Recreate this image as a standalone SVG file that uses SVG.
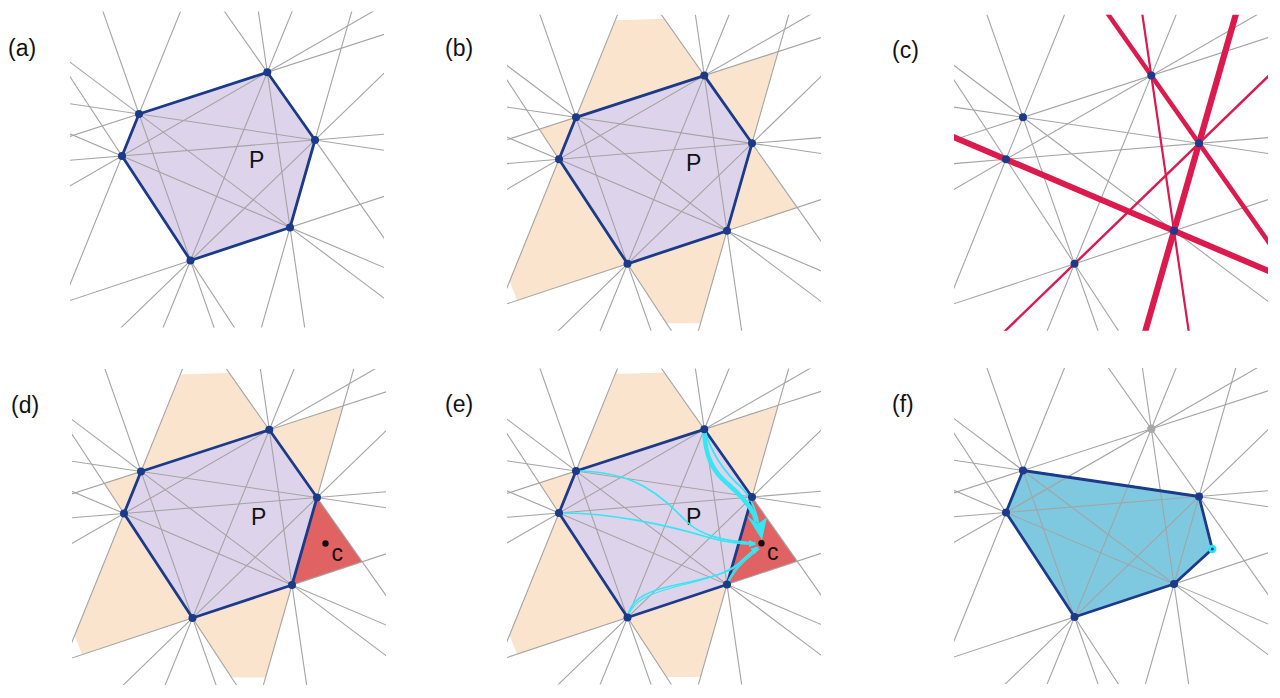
<svg xmlns="http://www.w3.org/2000/svg" xmlns:xlink="http://www.w3.org/1999/xlink" width="1280" height="698" viewBox="0 0 1280 698">
<style>
.ln{stroke:#a4a4a4;stroke-width:1.1;fill:none}
.hull{fill:none;stroke:#1c3a8a;stroke-width:2.8;stroke-linejoin:round}
.pt{fill:#1c3a8a}
.lbl{font-family:"Liberation Sans",Arial,sans-serif;font-size:23px;fill:#111}
.red{stroke:#dc1a4e;fill:none}
.cy{stroke:#36e6f4;fill:none;stroke-linecap:round}
.purple{fill:#ddd4eb}
.orange{fill:#fbe4cd}
.tri{fill:#e06262}
</style>
<defs>
<clipPath id="clip"><rect x="70" y="11.5" width="314" height="316"/></clipPath>
<marker id="ah" viewBox="0 0 10 10" refX="9" refY="5" markerWidth="7" markerHeight="7" orient="auto" markerUnits="userSpaceOnUse"><path d="M0,1 L10,5 L0,9 Z" fill="#36e6f4"/></marker>
<g id="lines">
<line class="ln" x1="-336.6" y1="268.6" x2="614.6" y2="-40.6"/>
<line class="ln" x1="-355.6" y1="40.9" x2="633.6" y2="187.1"/>
<line class="ln" x1="-260.7" y1="-186.4" x2="538.7" y2="414.4"/>
<line class="ln" x1="-26.8" y1="-357.7" x2="304.8" y2="585.7"/>
<line class="ln" x1="326.6" y1="-349.5" x2="-48.6" y2="577.5"/>
<line class="ln" x1="-20.7" y1="-336.5" x2="555.3" y2="481.1"/>
<line class="ln" x1="194.9" y1="-422.4" x2="339.7" y2="567"/>
<line class="ln" x1="456.2" y1="-390.6" x2="78.4" y2="535.2"/>
<line class="ln" x1="700.5" y1="-177.3" x2="-165.9" y2="321.9"/>
<line class="ln" x1="452.4" y1="-340.8" x2="177.6" y2="620.8"/>
<line class="ln" x1="674.2" y1="-207.7" x2="-44.2" y2="487.7"/>
<line class="ln" x1="813.2" y1="98.7" x2="-183.2" y2="181.3"/>
<line class="ln" x1="764.7" y1="70" x2="-184.7" y2="385"/>
<line class="ln" x1="750" y1="423.3" x2="-170" y2="31.7"/>
<line class="ln" x1="464.7" y1="678.9" x2="-83.7" y2="-157.9"/>
</g>
<polygon id="hex" points="139,114 267.3,72.3 315,140 290,227.5 190.5,260.5 122,156"/>
<path id="orange" d="M139,114 L179,17 L227.6,15.5 L267.3,72.3 L341.2,48.3 L315,140 L360.2,204.2 L290,227.5 L263.6,320 L229.5,320 L190.5,260.5 L80,297 L72.5,278 L122,156 L102.3,125.9 Z"/>
<g id="pts">
<circle cx="139" cy="114" r="4"/>
<circle cx="267.3" cy="72.3" r="4"/>
<circle cx="315" cy="140" r="4"/>
<circle cx="290" cy="227.5" r="4"/>
<circle cx="190.5" cy="260.5" r="4"/>
<circle cx="122" cy="156" r="4"/>
</g>
</defs>

<g id="labels" class="lbl">
<text x="8" y="56">(a)</text>
<text x="445" y="56">(b)</text>
<text x="892" y="58">(c)</text>
<text x="11" y="413">(d)</text>
<text x="445" y="412">(e)</text>
<text x="892" y="412">(f)</text>
</g>

<g id="panel-a" transform="translate(0,0)">
<use xlink:href="#hex" class="purple"/>
<g clip-path="url(#clip)"><use xlink:href="#lines"/></g>
<use xlink:href="#hex" class="hull"/>
<use xlink:href="#pts" class="pt"/>
<text class="lbl" x="249" y="167.5">P</text>
</g>

<g id="panel-b" transform="translate(437,3.3)">
<use xlink:href="#orange" class="orange"/>
<use xlink:href="#hex" class="purple"/>
<g clip-path="url(#clip)"><use xlink:href="#lines"/></g>
<use xlink:href="#hex" class="hull"/>
<use xlink:href="#pts" class="pt"/>
<text class="lbl" x="249" y="167.5">P</text>
</g>

<g id="panel-c" transform="translate(884,3.3)">
<g clip-path="url(#clip)">
<use xlink:href="#lines"/>
<line class="red" stroke-width="6" x1="750" y1="423.3" x2="-170" y2="31.7"/>
<line class="red" stroke-width="4.5" x1="-20.7" y1="-336.5" x2="555.3" y2="481.1"/>
<line class="red" stroke-width="2.2" x1="194.9" y1="-422.4" x2="339.7" y2="567"/>
<line class="red" stroke-width="6.2" x1="452.4" y1="-340.8" x2="177.6" y2="620.8"/>
<line class="red" stroke-width="2.4" x1="674.2" y1="-207.7" x2="-44.2" y2="487.7"/>
</g>
<use xlink:href="#pts" class="pt"/>
</g>

<g id="panel-d" transform="translate(2,357.5)">
<use xlink:href="#orange" class="orange"/>
<polygon class="tri" points="315,140 360.2,204.2 290,227.5"/>
<use xlink:href="#hex" class="purple"/>
<g clip-path="url(#clip)"><use xlink:href="#lines"/></g>
<use xlink:href="#hex" class="hull"/>
<use xlink:href="#pts" class="pt"/>
<text class="lbl" x="249" y="167.5">P</text>
<circle cx="323.5" cy="186" r="3.2" fill="#111"/>
<text class="lbl" x="329.5" y="203">c</text>
</g>

<g id="panel-e" transform="translate(437,357)">
<use xlink:href="#orange" class="orange"/>
<polygon class="tri" points="315,140 360.2,204.2 290,227.5"/>
<use xlink:href="#hex" class="purple"/>
<g clip-path="url(#clip)"><use xlink:href="#lines"/></g>
<use xlink:href="#hex" class="hull"/>
<text class="lbl" x="249" y="167.5">P</text>
<g id="flows">
<path class="cy" stroke-width="1.6" marker-end="url(#ah)" d="M139,114 C200,114 225,140 248,163 C262,178 285,184 318,186"/>
<path class="cy" stroke-width="1.6" marker-end="url(#ah)" d="M122,156 C170,155 230,168 270,180 C290,186 305,187 318,187.5"/>
<path class="cy" stroke-width="1.6" marker-end="url(#ah)" d="M190.5,260.5 C193,245 205,236 230,230 C265,222 290,218 302,207 C310,200 315,194 320,190"/>
<path class="cy" stroke-width="1.2" d="M190.5,260.5 C196,242 215,236 245,228 C275,221 295,214 305,203 L319,191"/>
<path class="cy" stroke-width="1.4" marker-end="url(#ah)" d="M290,227.5 C294,214 306,203 321,191"/>
<path class="cy" stroke-width="1.2" d="M292,225 C298,211 312,200 322,192"/>
<path class="cy" stroke-width="1.8" d="M267.3,72.3 C275,98 290,118 305,131 C315,142 320,155 322,170"/>
<path class="cy" stroke-width="4.5" d="M267.3,73 C268,100 276,115 292,128 C308,142 316,152 319,163"/>
<polygon fill="#36e6f4" points="310,159 321,167 330,160 325,183"/>
</g>
<use xlink:href="#pts" class="pt"/>
<circle cx="324.5" cy="186.3" r="3.2" fill="#111"/>
<text class="lbl" x="330" y="203">c</text>
</g>

<g id="panel-f" transform="translate(884,356.5)">
<polygon fill="#7ec8e0" points="139,114 315,140 328.3,192.5 290,227.5 190.5,260.5 122,156"/>
<g clip-path="url(#clip)"><use xlink:href="#lines"/></g>
<polygon class="hull" points="139,114 315,140 328.3,192.5 290,227.5 190.5,260.5 122,156"/>
<g class="pt">
<circle cx="139" cy="114" r="4"/>
<circle cx="315" cy="140" r="4"/>
<circle cx="290" cy="227.5" r="4"/>
<circle cx="190.5" cy="260.5" r="4"/>
<circle cx="122" cy="156" r="4"/>
</g>
<circle cx="267.3" cy="72.3" r="4.2" fill="#a8a8a8"/>
<circle cx="328.3" cy="192.5" r="4.2" fill="#28e6f2"/>
<circle cx="328.3" cy="192.5" r="1.6" fill="#1c3a8a"/>
</g>
</svg>
